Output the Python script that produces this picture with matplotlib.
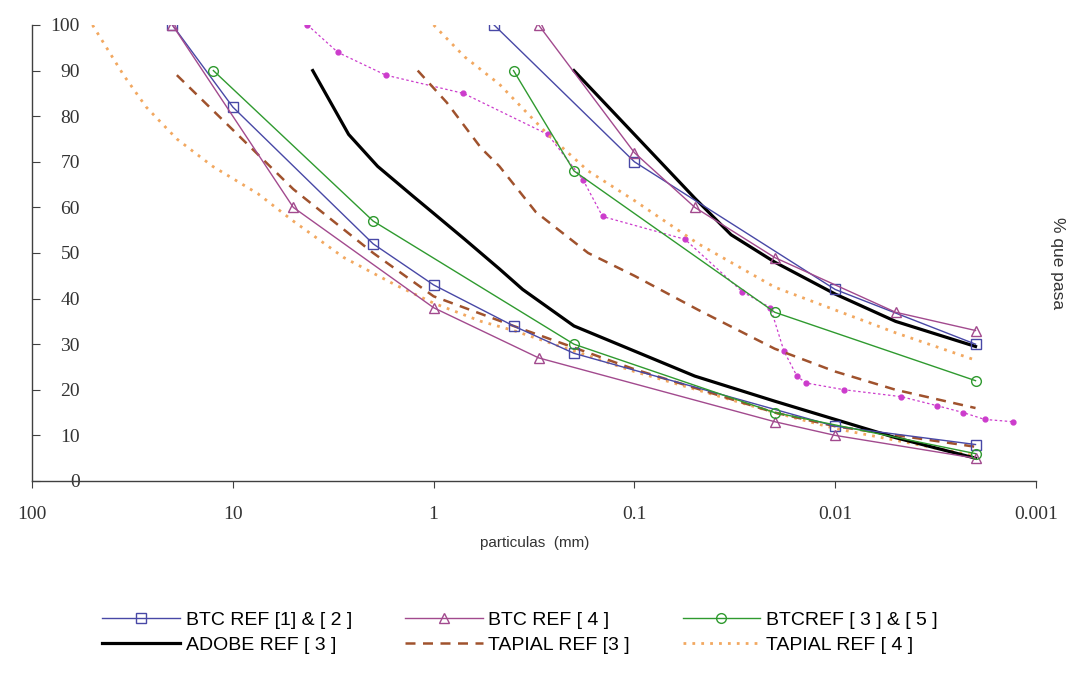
import matplotlib
matplotlib.use("Agg")
import matplotlib.pyplot as plt

# BTC REF [1] & [2]
btc12_a_x = [20, 10, 2, 1, 0.4, 0.2, 0.01, 0.002]
btc12_a_y = [100, 82, 52, 43, 34, 28, 12, 8]
btc12_b_x = [0.5, 0.1, 0.01, 0.002]
btc12_b_y = [100, 70, 42, 30]

# BTC REF [4]
btc4_a_x = [20, 5, 1, 0.3, 0.02, 0.01, 0.002]
btc4_a_y = [100, 60, 38, 27, 13, 10, 5]
btc4_b_x = [0.3, 0.1, 0.05, 0.02, 0.005, 0.002]
btc4_b_y = [100, 72, 60, 49, 37, 33]

# BTC REF [3] & [5]
btc35_a_x = [12.5, 2, 0.2, 0.02, 0.002]
btc35_a_y = [90, 57, 30, 15, 6]
btc35_b_x = [0.4, 0.2, 0.02, 0.002]
btc35_b_y = [90, 68, 37, 22]

# ADOBE REF [3]
adobe_a_x = [4, 2.65, 1.9, 1.27, 1, 0.7, 0.47, 0.36, 0.2, 0.1, 0.05, 0.02, 0.01, 0.005, 0.002]
adobe_a_y = [90, 76, 69, 62.5, 58.7, 53, 46.5, 42, 34, 28.5, 23, 17.5, 13.5, 9.5, 5]
adobe_b_x = [0.2, 0.1, 0.05, 0.033, 0.02, 0.01, 0.005, 0.002]
adobe_b_y = [90, 76, 62, 54, 48, 41, 35, 29.5]

# TAPIAL REF [3]
tap3_a_x = [19, 10, 5, 2, 1, 0.4, 0.1, 0.02, 0.01, 0.002]
tap3_a_y = [89, 77, 64, 50, 40.5, 34, 24.5, 15, 12, 7.5]
tap3_b_x = [1.2, 0.86, 0.58, 0.47, 0.31, 0.17, 0.1, 0.048, 0.02, 0.01, 0.005, 0.002]
tap3_b_y = [90, 83, 73, 69, 59, 50, 45, 37.5, 29, 24, 20, 16]

# TAPIAL REF [4]
tap4_a_x = [50, 35, 27, 19, 12.6, 7.5, 5, 2.8, 1.55, 1, 0.58, 0.4, 0.2, 0.1, 0.02, 0.01, 0.002]
tap4_a_y = [100, 89, 82, 75, 69, 63, 57, 49, 43, 39, 35, 33, 28.5, 24, 15, 11.5, 5.5]
tap4_b_x = [1, 0.7, 0.47, 0.27, 0.17, 0.1, 0.048, 0.02, 0.01, 0.005, 0.002]
tap4_b_y = [100, 93, 87, 76, 68, 61.5, 52, 42.5, 37.5, 32.5, 26.5]

# serie sin leyenda (puntos magenta)
extra_x = [4.25, 3.0, 1.73, 0.71, 0.27, 0.18, 0.144, 0.056, 0.029, 0.021, 0.018,
           0.0155, 0.014, 0.009, 0.0047, 0.0031, 0.0023, 0.0018, 0.0013]
extra_y = [100, 94, 89, 85, 76, 66, 58, 53, 41.5, 38, 28.5, 23, 21.5, 20, 18.5,
           16.5, 15, 13.5, 13]

yticks = [0, 10, 20, 30, 40, 50, 60, 70, 80, 90, 100]
xticks = [100, 10, 1, 0.1, 0.01, 0.001]
xtick_labels = ["100", "10", "1", "0.1", "0.01", "0.001"]

fig = plt.figure(figsize=(10.68, 6.73), dpi=100)
ax = fig.add_axes([0.030, 0.2853, 0.940, 0.6776])

blue = "#4848a6"
pink = "#a24a8e"
green = "#2f9a2f"
brown = "#a0522d"
orange = "#f2a860"
magenta = "#cc3ccc"

ax.plot(extra_x, extra_y, color=magenta, lw=0.9, ls=(0, (2, 2)), marker="o",
        ms=3.5, mfc=magenta, mec=magenta)

ax.plot(tap4_a_x, tap4_a_y, color=orange, lw=2.0, ls=(0, (1, 2.2)), label="TAPIAL REF [ 4 ]")
ax.plot(tap4_b_x, tap4_b_y, color=orange, lw=2.0, ls=(0, (1, 2.2)))
ax.plot(tap3_a_x, tap3_a_y, color=brown, lw=1.8, ls=(0, (4, 3)), label="TAPIAL REF [3 ]")
ax.plot(tap3_b_x, tap3_b_y, color=brown, lw=1.8, ls=(0, (4, 3)))
ax.plot(adobe_a_x, adobe_a_y, color="black", lw=2.3, label="ADOBE REF [ 3 ]")
ax.plot(adobe_b_x, adobe_b_y, color="black", lw=2.3)

mk = dict(ms=7, mfc="none", mew=1.0, lw=1.0)
ax.plot(btc12_a_x, btc12_a_y, color=blue, marker="s", label="BTC REF [1] & [ 2 ]", **mk)
ax.plot(btc12_b_x, btc12_b_y, color=blue, marker="s", **mk)
ax.plot(btc4_a_x, btc4_a_y, color=pink, marker="^", label="BTC REF [ 4 ]", **mk)
ax.plot(btc4_b_x, btc4_b_y, color=pink, marker="^", **mk)
ax.plot(btc35_a_x, btc35_a_y, color=green, marker="o", label="BTCREF [ 3 ] & [ 5 ]", **mk)
ax.plot(btc35_b_x, btc35_b_y, color=green, marker="o", **mk)

ax.set_xscale("log")
ax.set_xlim(100, 0.001)
ax.set_ylim(0, 100)
ax.set_xticks(xticks)
ax.set_xticklabels(xtick_labels)
ax.minorticks_off()
ax.set_yticks(yticks)
for side in ["top", "right"]:
    ax.spines[side].set_visible(False)
for side in ["left", "bottom"]:
    ax.spines[side].set_color("#404040")
    ax.spines[side].set_linewidth(1.0)

ax.tick_params(axis="y", direction="in", length=6, pad=-34.5, colors="#404040",
               labelsize=14)
ax.tick_params(axis="x", direction="out", length=5, pad=13, colors="#404040",
               labelsize=14)
for lab in ax.get_xticklabels() + ax.get_yticklabels():
    lab.set_fontfamily("Liberation Serif")
    lab.set_color("#333333")

fig.text(0.501, 0.193, "particulas  (mm)", ha="center", va="center", fontsize=11,
         family=["Liberation Sans", "DejaVu Sans"], color="#333333")
fig.text(0.990, 0.609, "% que pasa", rotation=270, ha="center", va="center",
         fontsize=12.5, family=["Liberation Sans", "DejaVu Sans"], color="#333333")

handles, labels = ax.get_legend_handles_labels()
order = ["BTC REF [1] & [ 2 ]", "ADOBE REF [ 3 ]", "BTC REF [ 4 ]", "TAPIAL REF [3 ]",
         "BTCREF [ 3 ] & [ 5 ]", "TAPIAL REF [ 4 ]"]
hmap = dict(zip(labels, handles))
leg = fig.legend([hmap[o] for o in order], order, loc="center", ncol=3,
                 bbox_to_anchor=(0.487, 0.060), frameon=False, handlelength=4.0,
                 columnspacing=2.7, labelspacing=0.35, handletextpad=0.3,
                 prop={"family": ["Liberation Sans", "DejaVu Sans"], "size": 14})

fig.savefig("out.png", dpi=100, facecolor="white")
